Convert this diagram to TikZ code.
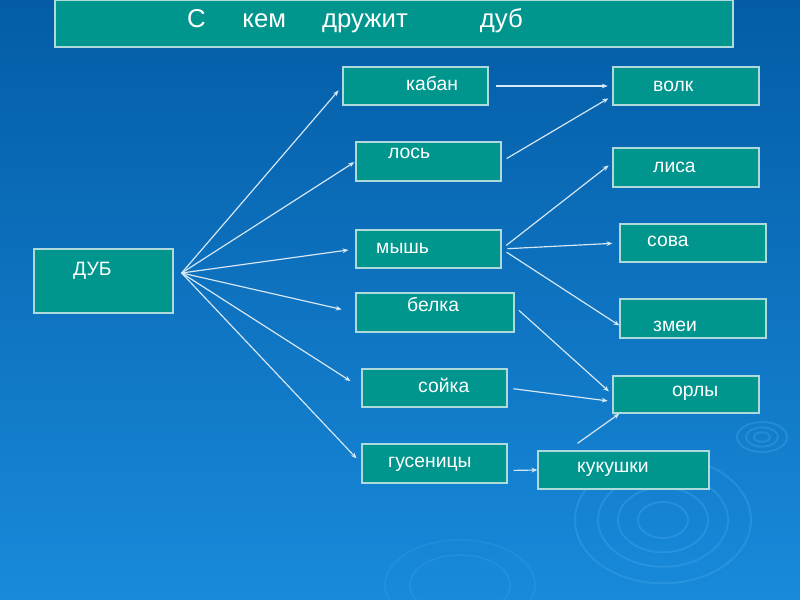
\documentclass[tikz,border=0pt]{standalone}
\usepackage{fontspec}
\setmainfont{Liberation Sans}
\usetikzlibrary{calc,arrows.meta}

\definecolor{bgtop}{RGB}{4,92,166}
\definecolor{bgmid}{RGB}{8,104,182}
\definecolor{bgbot}{RGB}{24,138,218}
\definecolor{boxfill}{RGB}{0,150,142}
\definecolor{boxline}{RGB}{175,218,220}
\definecolor{arrowcol}{RGB}{215,232,245}
\definecolor{ripplecol}{RGB}{80,175,240}

\begin{document}
\begin{tikzpicture}[x=0.03cm, y=-0.03cm,
        box/.style={draw=boxline, fill=boxfill, line width=1.1pt, inner sep=0pt},
        word/.style={text=white, anchor=base west, inner sep=0pt, font=\fontsize{16.5}{19}\selectfont},
        arrow/.style={draw=arrowcol, line width=1pt, -{Stealth[length=5pt,width=4pt]}},
        ripple/.style={draw=ripplecol, line width=1.6pt, opacity=0.3}]
            % background and ripples
            \useasboundingbox (0,0) rectangle (800,600);
            \shade[top color=bgtop, middle color=bgmid, bottom color=bgbot] (0,0) rectangle (800,600);
            \foreach \r in {25,45,65,88} {
                \draw[ripple] (663,520) ellipse [x radius=\r, y radius=0.72*\r];
            }
            \foreach \r in {8,16,25} {
                \draw[ripple] (762,437) ellipse [x radius=\r, y radius=0.6*\r];
            }
            \foreach \r in {50,75} {
                \draw[ripple, opacity=0.18] (460,585) ellipse [x radius=\r, y radius=0.6*\r];
            }

            % title
            \node[box, minimum width=20.34cm, minimum height=1.41cm] (title) at (394,23.5) {};
            \node[word, font=\fontsize{22}{26}\selectfont] (t-title) at (187,28)
                {С\hspace{1.1cm}кем\hspace{1.08cm}дружит\hspace{2.16cm}дуб};

            % boxes
            \node[box, minimum width=4.17cm, minimum height=1.92cm] (dub) at (103.5,281) {};
            \node[box, minimum width=4.35cm, minimum height=1.14cm] (kaban) at (415.5,86) {};
            \node[box, minimum width=4.35cm, minimum height=1.17cm] (los) at (428.5,161.5) {};
            \node[box, minimum width=4.35cm, minimum height=1.14cm] (mysh) at (428.5,249) {};
            \node[box, minimum width=4.74cm, minimum height=1.17cm] (belka) at (435,312.5) {};
            \node[box, minimum width=4.35cm, minimum height=1.14cm] (soyka) at (434.5,388) {};
            \node[box, minimum width=4.35cm, minimum height=1.17cm] (gusen) at (434.5,463.5) {};
            \node[box, minimum width=4.38cm, minimum height=1.14cm] (volk) at (686,86) {};
            \node[box, minimum width=4.38cm, minimum height=1.17cm] (lisa) at (686,167.5) {};
            \node[box, minimum width=4.38cm, minimum height=1.14cm] (sova) at (693,243) {};
            \node[box, minimum width=4.38cm, minimum height=1.17cm] (zmei) at (693,318.5) {};
            \node[box, minimum width=4.38cm, minimum height=1.11cm] (orly) at (686,394.5) {};
            \node[box, minimum width=5.13cm, minimum height=1.14cm] (kuk) at (623.5,470) {};

            % texts
            \node[word] (t-dub) at (73,276) {ДУБ};
            \node[word] (t-kaban) at (406,91) {кабан};
            \node[word] (t-los) at (388,159) {лось};
            \node[word] (t-mysh) at (376,254) {мышь};
            \node[word] (t-belka) at (407,312) {белка};
            \node[word] (t-soyka) at (418,393) {сойка};
            \node[word] (t-gusen) at (388,468) {гусеницы};
            \node[word] (t-volk) at (653,92) {волк};
            \node[word] (t-lisa) at (653,173) {лиса};
            \node[word] (t-sova) at (647,247) {сова};
            \node[word] (t-zmei) at (653,332) {змеи};
            \node[word] (t-orly) at (672,397) {орлы};
            \node[word] (t-kuk) at (577,473) {кукушки};

            % arrows out of the oak
            \coordinate (hub) at ($(dub.east)+(8,-8)$);
            \foreach \t/\s in {kaban/5pt, los/1pt, mysh/6pt, belka/12pt, soyka/11pt, gusen/6pt} {
                \draw[arrow, shorten >=\s] (hub) -- (\t.west);
            }

            % the other arrows
            \draw[arrow, shorten <=6pt, shorten >=4pt] (kaban.east) -- (volk.west);
            \draw[arrow, shorten <=5pt, shorten >=4pt] (los.east) -- ($(volk.west)+(0,10)$);
            \draw[arrow, shorten <=5pt, shorten >=4pt] (mysh.east) -- ($(lisa.west)+(0,-5)$);
            \draw[arrow, shorten <=5pt, shorten >=6pt] (mysh.east) -- (sova.west);
            \draw[arrow, shorten <=5pt] (mysh.east) -- ($(zmei.west)+(0,7)$);
            \draw[arrow, shorten <=5pt, shorten >=4pt] ($(belka.east)+(0,-6)$) -- (orly.west);
            \draw[arrow, shorten <=5pt, shorten >=4pt] (soyka.east) -- ($(orly.west)+(0,7)$);
            \draw[arrow, shorten <=5pt] ($(gusen.east)+(0,7)$) -- (kuk.west);
            \draw[arrow] ($(kuk.north)+(-46,-7)$) -- ($(orly.south west)+(7,0)$);
        \end{tikzpicture}
\end{document}
